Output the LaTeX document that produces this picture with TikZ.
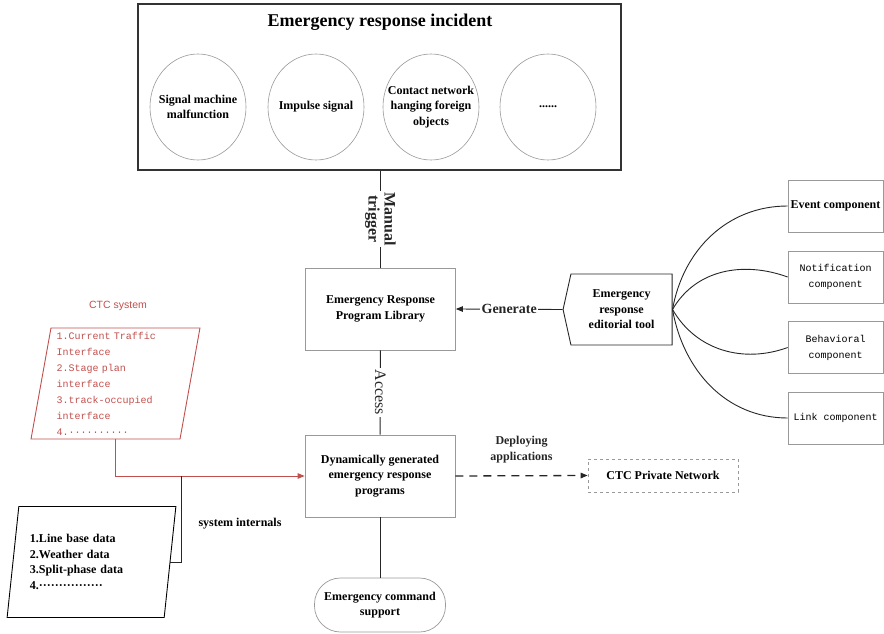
\documentclass[tikz,border=0pt]{standalone}
\usepackage{fontspec}
\setmainfont{Liberation Serif}
\setsansfont{Liberation Sans}
\setmonofont{Liberation Mono}
\usepackage{xcolor}
\usepackage{tikz}
\usetikzlibrary{arrows.meta, shapes.geometric, shapes.symbols}
\definecolor{ctcred}{HTML}{C0504D}

\begin{document}
\begin{tikzpicture}[x=1pt, y=-1pt,
            >={Triangle[length=7pt, width=5.5pt]},
            boldtext/.style = {font=\bfseries\fontsize{12}{15.5}\selectfont},
            box/.style = {draw=gray!80, line width=0.7pt, minimum width=150,
                         minimum height=82, align=center, boldtext},
            event/.style = {ellipse, draw=gray!80, line width=0.6pt, minimum width=96,
                         minimum height=106, node contents={},
                         label={[align=center, boldtext]center:#1}},
            comp/.style = {draw=gray!80, line width=0.7pt, minimum width=95,
                         minimum height=52, inner sep=1pt, align=center,
                         font=\ttfamily\fontsize{10}{16}\selectfont},
            para/.style = {trapezium, trapezium left angle=80,
                         trapezium right angle=100, trapezium stretches=true,
                         minimum width=169, minimum height=111, inner sep=1pt,
                         line width=0.9pt, align=left},
            tag/.style = {fill=white, inner sep=1.5pt, align=center},
            every edge/.style = {draw, black!85, line width=0.9pt}
        ]
            \useasboundingbox (0,0) rectangle (884,634);
            \node (incident) at (379.5,87) [draw=black!80, line width=1.1pt, minimum width=483, minimum height=166] {};
            \node (title) at (380,22) [font=\bfseries\fontsize{18}{20}\selectfont] {Emergency response incident};
            \node (signal) at (198,107) [event={Signal machine\\malfunction}];
            \node (impulse) at (316,107) [event={Impulse signal}];
            \node (contact) at (431,107) [event={Contact network\\hanging foreign\\objects}];
            \node (others) at (548,107) [event={......}];

            \node (library) at (380.5,309) [box] {Emergency Response\\Program Library};
            \node (dynamic) at (380,476) [box] {Dynamically generated\\emergency response\\programs};
            \node (command) at (380,605) [draw=gray!80, line width=0.7pt, rounded corners=26,
                         minimum width=131, minimum height=54, align=center, boldtext] {Emergency command\\support};
            \node (editor) at (621.5,309.5) [signal, signal to=west, signal pointer angle=155,
                         draw=black!85, line width=0.9pt, minimum width=109, minimum height=71,
                         inner sep=1pt, align=center, boldtext] {Emergency\\response\\editorial tool};

            \node (eventc) at (835.5,206) [comp, boldtext] {Event component};
            \node (notec) at (835.5,277) [comp] {Notification\\component};
            \node (behavec) at (835.5,347.5) [comp] {Behavioral\\component};
            \node (linkc) at (835.5,418) [comp] {Link component};

            \node (network) at (663,475.5) [draw=gray!80, line width=0.7pt, dashed, minimum width=150,
                         minimum height=33, boldtext] {CTC Private Network};

            \node (ctctitle) at (118,306) [text=ctcred, font=\sffamily\fontsize{10.5}{12}\selectfont] {CTC system};
            \node (ctc) at (115.5,383.5) [para, draw=ctcred, text=ctcred, text width=118,
                         font=\ttfamily\fontsize{10}{16}\selectfont]
                         {1.Current Traffic\\Interface\\2.Stage plan\\interface\\3.track-occupied\\interface\\4.··········};
            \node (internal) at (91.5,562) [para, draw=black, text width=123, boldtext]
                         {1.Line base data\\2.Weather data\\3.Split-phase data\\4.················};
            \node (sysint) at (240,524) [boldtext] {system internals};
            \coordinate (joint) at (181,476);

            %
            \path   (library.north |- incident.south) edge node[tag, rotate=-90,
                        font=\bfseries\fontsize{16}{16}\selectfont] {Manual\\trigger} (library.north)
                    (library) edge node[tag, rotate=-90,
                        font=\fontsize{16}{16}\selectfont] {Access} (dynamic)
                    (dynamic) edge (command)
                    (editor.west) edge[->] node[tag,
                        font=\bfseries\fontsize{14}{16}\selectfont] {Generate} (library.east)
                    (dynamic.east) edge[->, line width=1.3pt, dash pattern=on 8pt off 6pt]
                        node[above=9pt, boldtext, align=center] {Deploying\\applications} (network.west)
                    (editor.east) edge[out=80, in=180] (eventc.west)
                    (editor.east) edge[out=60, in=160] (notec.west)
                    (editor.east) edge[out=-60, in=200] (behavec.west)
                    (editor.east) edge[out=-80, in=180] (linkc.west);
            \draw[ctcred, line width=0.9pt, ->] (ctc.south) |- (dynamic.west);
            \draw[black!85, line width=0.9pt] (internal.east) -| (joint);
        \end{tikzpicture}
\end{document}
